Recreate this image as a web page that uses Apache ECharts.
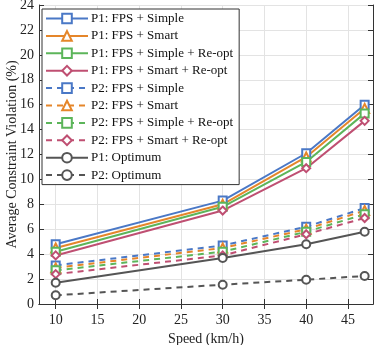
<!DOCTYPE html>
<html><head><meta charset="utf-8">
<script src="https://cdn.jsdelivr.net/npm/echarts@6/dist/echarts.min.js"></script>
<style>html,body{margin:0;padding:0;background:#fff}#c{width:381px;height:345px}</style>
</head><body><div id="c"></div>
<script>
const speeds = [10, 30, 40, 47];
const p1Simple = [4.8, 8.3, 12.1, 16.0];
const p1Smart = [4.5, 8.0, 11.8, 15.7];
const p1SimpleReopt = [4.2, 7.8, 11.4, 15.3];
const p1SmartReopt = [3.9, 7.5, 10.9, 14.7];
const p2Simple = [3.1, 4.7, 6.2, 7.7];
const p2Smart = [2.9, 4.5, 6.0, 7.5];
const p2SimpleReopt = [2.7, 4.2, 5.8, 7.2];
const p2SmartReopt = [2.4, 3.9, 5.6, 6.9];
const p1Optimum = [1.7, 3.7, 4.8, 5.8];
const p2Optimum = [0.7, 1.55, 1.95, 2.25];
const xTicks = [10, 15, 20, 25, 30, 35, 40, 45];
const names = ['P1: FPS + Simple','P1: FPS + Smart','P1: FPS + Simple + Re-opt','P1: FPS + Smart + Re-opt',
  'P2: FPS + Simple','P2: FPS + Smart','P2: FPS + Simple + Re-opt','P2: FPS + Smart + Re-opt',
  'P1: Optimum','P2: Optimum'];

const blue='#4a78c6', orange='#e5862a', green='#5cb55a', pink='#bf4f72', gray='#555555';
const font = 'Liberation Serif';
function mk(name, vals, color, symbol, dashed){
  return {
    name, type:'line', data: speeds.map((s,i)=>[s, vals[i]]),
    symbol, symbolSize: symbol==='emptyTriangle'?9:8,
    lineStyle:{color, width:2, type: dashed?[6,5]:'solid'},
    itemStyle:{color, borderWidth:2},
    showSymbol:true
  };
}
const series = [
  mk(names[0], p1Simple, blue, 'emptyRect', false),
  mk(names[1], p1Smart, orange, 'emptyTriangle', false),
  mk(names[2], p1SimpleReopt, green, 'emptyRect', false),
  mk(names[3], p1SmartReopt, pink, 'emptyDiamond', false),
  mk(names[4], p2Simple, blue, 'emptyRect', true),
  mk(names[5], p2Smart, orange, 'emptyTriangle', true),
  mk(names[6], p2SimpleReopt, green, 'emptyRect', true),
  mk(names[7], p2SmartReopt, pink, 'emptyDiamond', true),
  mk(names[8], p1Optimum, gray, 'emptyCircle', false),
  mk(names[9], p2Optimum, gray, 'emptyCircle', true)
];
const chart = echarts.init(document.getElementById('c'), null, {renderer:'canvas'});
const axLine = {show:true, lineStyle:{color:'#333', width:1}};
chart.setOption({
  animation:false,
  backgroundColor:'#fff',
  grid:{left:39, right:8, top:5, bottom:41, show:false, containLabel:false, outerBoundsMode:'none'},
  legend:{
    orient:'vertical', left:42, top:9, itemWidth:42, itemHeight:12, itemGap:4.4,
    padding:[3,6,3,3], backgroundColor:'#fff', borderColor:'#333', borderWidth:1,
    textStyle:{fontFamily:font, fontSize:13, color:'#111', padding:[0,0,0,-2]},
    data: names
  },
  xAxis:[{
    type:'value', min:8, max:48,
    name:'Speed (km/h)', nameLocation:'middle', nameGap:26,
    nameTextStyle:{fontFamily:font, fontSize:14, color:'#222'},
    axisLine:axLine,
    axisTick:{show:true, inside:true, length:5, customValues:xTicks, lineStyle:{color:'#333'}},
    axisLabel:{customValues:xTicks, fontFamily:font, fontSize:14, color:'#222', margin:9},
    splitLine:{show:true, lineStyle:{color:'#e3e3e3', width:1}}
  },{
    type:'value', min:8, max:48, position:'top',
    axisLine:axLine,
    axisTick:{show:true, inside:true, length:5, customValues:xTicks, lineStyle:{color:'#333'}},
    axisLabel:{show:false}, splitLine:{show:false}
  }],
  yAxis:[{
    type:'value', min:0, max:24, interval:2,
    name:'Average Constraint Violation (%)', nameLocation:'middle', nameGap:20, nameMoveOverlap:false,
    nameTextStyle:{fontFamily:font, fontSize:14, color:'#222'},
    axisLine:axLine,
    axisTick:{show:true, inside:true, length:5, lineStyle:{color:'#333'}},
    axisLabel:{fontFamily:font, fontSize:14, color:'#222', margin:5},
    splitLine:{show:true, lineStyle:{color:'#e3e3e3', width:1}}
  },{
    type:'value', min:0, max:24, interval:2, position:'right',
    axisLine:axLine,
    axisTick:{show:true, inside:true, length:5, lineStyle:{color:'#333'}},
    axisLabel:{show:false}, splitLine:{show:false}
  }],
  series
});
</script></body></html>
